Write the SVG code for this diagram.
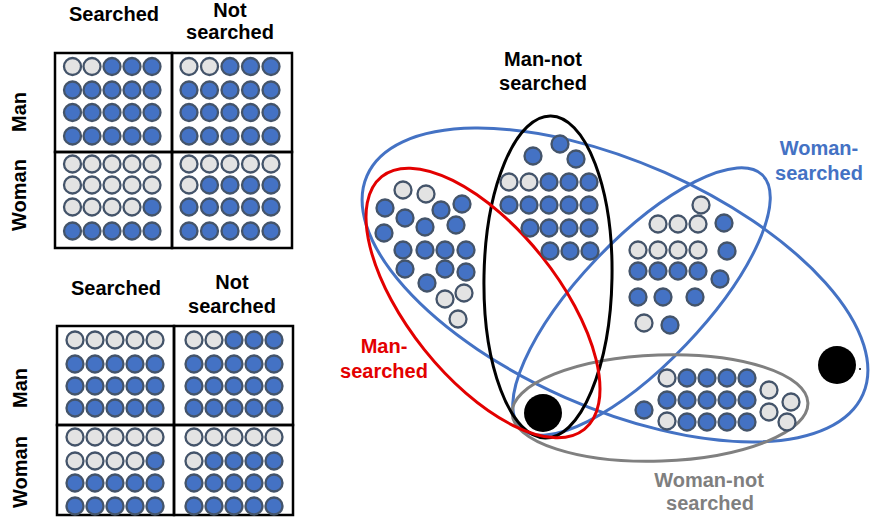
<svg xmlns="http://www.w3.org/2000/svg" width="870" height="529" viewBox="0 0 870 529">
<style>
text{font-family:"Liberation Sans",Arial,sans-serif;font-weight:bold;font-size:20px;text-anchor:middle}
.b{fill:#4472C4;stroke:#44546A;stroke-width:2.3}
.l{fill:#E3E3E3;stroke:#44546A;stroke-width:2.3}
.cell{fill:none;stroke:#000;stroke-width:2.5}
.ring{fill:none;stroke-width:3}
</style>
<rect width="870" height="529" fill="#fff"/>

<!-- ===== Top grid ===== -->
<g id="top-grid">
  <text x="114" y="21">Searched</text>
  <text x="230" y="17">Not</text>
  <text x="230" y="39">searched</text>
  <text transform="translate(26,112) rotate(-90)">Man</text>
  <text transform="translate(26,195) rotate(-90)">Woman</text>
  <g id="t-man-s">
    <rect class="cell" x="55" y="53" width="117" height="99"/>
    <circle class="l" cx="72.5" cy="66.5" r="8.5"/><circle class="l" cx="92" cy="66.5" r="8.5"/><circle class="b" cx="112" cy="66.5" r="8.5"/><circle class="b" cx="132" cy="66.5" r="8.5"/><circle class="b" cx="152" cy="66.5" r="8.5"/>
    <circle class="b" cx="72.5" cy="90" r="8.5"/><circle class="b" cx="92" cy="90" r="8.5"/><circle class="b" cx="112" cy="90" r="8.5"/><circle class="b" cx="132" cy="90" r="8.5"/><circle class="b" cx="152" cy="90" r="8.5"/>
    <circle class="b" cx="72.5" cy="112.5" r="8.5"/><circle class="b" cx="92" cy="112.5" r="8.5"/><circle class="b" cx="112" cy="112.5" r="8.5"/><circle class="b" cx="132" cy="112.5" r="8.5"/><circle class="b" cx="152" cy="112.5" r="8.5"/>
    <circle class="b" cx="72.5" cy="136" r="8.5"/><circle class="b" cx="92" cy="136" r="8.5"/><circle class="b" cx="112" cy="136" r="8.5"/><circle class="b" cx="132" cy="136" r="8.5"/><circle class="b" cx="152" cy="136" r="8.5"/>
  </g>
  <g id="t-man-ns">
    <rect class="cell" x="172" y="53" width="120" height="99"/>
    <circle class="l" cx="189" cy="66.5" r="8.5"/><circle class="l" cx="209.5" cy="66.5" r="8.5"/><circle class="b" cx="230" cy="66.5" r="8.5"/><circle class="b" cx="250.5" cy="66.5" r="8.5"/><circle class="b" cx="271" cy="66.5" r="8.5"/>
    <circle class="b" cx="189" cy="90" r="8.5"/><circle class="b" cx="209.5" cy="90" r="8.5"/><circle class="b" cx="230" cy="90" r="8.5"/><circle class="b" cx="250.5" cy="90" r="8.5"/><circle class="b" cx="271" cy="90" r="8.5"/>
    <circle class="b" cx="189" cy="112.5" r="8.5"/><circle class="b" cx="209.5" cy="112.5" r="8.5"/><circle class="b" cx="230" cy="112.5" r="8.5"/><circle class="b" cx="250.5" cy="112.5" r="8.5"/><circle class="b" cx="271" cy="112.5" r="8.5"/>
    <circle class="b" cx="189" cy="136" r="8.5"/><circle class="b" cx="209.5" cy="136" r="8.5"/><circle class="b" cx="230" cy="136" r="8.5"/><circle class="b" cx="250.5" cy="136" r="8.5"/><circle class="b" cx="271" cy="136" r="8.5"/>
  </g>
  <g id="t-woman-s">
    <rect class="cell" x="55" y="152" width="117" height="96"/>
    <circle class="l" cx="72.5" cy="164" r="8.5"/><circle class="l" cx="92" cy="164" r="8.5"/><circle class="l" cx="112" cy="164" r="8.5"/><circle class="l" cx="132" cy="164" r="8.5"/><circle class="l" cx="152" cy="164" r="8.5"/>
    <circle class="l" cx="72.5" cy="185" r="8.5"/><circle class="l" cx="92" cy="185" r="8.5"/><circle class="l" cx="112" cy="185" r="8.5"/><circle class="l" cx="132" cy="185" r="8.5"/><circle class="l" cx="152" cy="185" r="8.5"/>
    <circle class="l" cx="72.5" cy="207" r="8.5"/><circle class="l" cx="92" cy="207" r="8.5"/><circle class="l" cx="112" cy="207" r="8.5"/><circle class="l" cx="132" cy="207" r="8.5"/><circle class="b" cx="152" cy="207" r="8.5"/>
    <circle class="b" cx="72.5" cy="231" r="8.5"/><circle class="b" cx="92" cy="231" r="8.5"/><circle class="b" cx="112" cy="231" r="8.5"/><circle class="b" cx="132" cy="231" r="8.5"/><circle class="b" cx="152" cy="231" r="8.5"/>
  </g>
  <g id="t-woman-ns">
    <rect class="cell" x="172" y="152" width="120" height="96"/>
    <circle class="l" cx="189" cy="164" r="8.5"/><circle class="l" cx="209.5" cy="164" r="8.5"/><circle class="l" cx="230" cy="164" r="8.5"/><circle class="l" cx="250.5" cy="164" r="8.5"/><circle class="l" cx="271" cy="164" r="8.5"/>
    <circle class="l" cx="189" cy="185" r="8.5"/><circle class="b" cx="209.5" cy="185" r="8.5"/><circle class="b" cx="230" cy="185" r="8.5"/><circle class="b" cx="250.5" cy="185" r="8.5"/><circle class="b" cx="271" cy="185" r="8.5"/>
    <circle class="b" cx="189" cy="207" r="8.5"/><circle class="b" cx="209.5" cy="207" r="8.5"/><circle class="b" cx="230" cy="207" r="8.5"/><circle class="b" cx="250.5" cy="207" r="8.5"/><circle class="b" cx="271" cy="207" r="8.5"/>
    <circle class="b" cx="189" cy="231" r="8.5"/><circle class="b" cx="209.5" cy="231" r="8.5"/><circle class="b" cx="230" cy="231" r="8.5"/><circle class="b" cx="250.5" cy="231" r="8.5"/><circle class="b" cx="271" cy="231" r="8.5"/>
  </g>
</g>

<!-- ===== Bottom grid ===== -->
<g id="bottom-grid">
  <text x="116" y="295">Searched</text>
  <text x="232" y="289">Not</text>
  <text x="232" y="313">searched</text>
  <text transform="translate(27,388) rotate(-90)">Man</text>
  <text transform="translate(27,472) rotate(-90)">Woman</text>
  <g id="b-man-s">
    <rect class="cell" x="57" y="326" width="117" height="99"/>
    <circle class="l" cx="75" cy="340" r="8.5"/><circle class="l" cx="95" cy="340" r="8.5"/><circle class="l" cx="115" cy="340" r="8.5"/><circle class="l" cx="135" cy="340" r="8.5"/><circle class="l" cx="155" cy="340" r="8.5"/>
    <circle class="b" cx="75" cy="364" r="8.5"/><circle class="b" cx="95" cy="364" r="8.5"/><circle class="b" cx="115" cy="364" r="8.5"/><circle class="b" cx="135" cy="364" r="8.5"/><circle class="b" cx="155" cy="364" r="8.5"/>
    <circle class="b" cx="75" cy="386" r="8.5"/><circle class="b" cx="95" cy="386" r="8.5"/><circle class="b" cx="115" cy="386" r="8.5"/><circle class="b" cx="135" cy="386" r="8.5"/><circle class="b" cx="155" cy="386" r="8.5"/>
    <circle class="b" cx="75" cy="408" r="8.5"/><circle class="b" cx="95" cy="408" r="8.5"/><circle class="b" cx="115" cy="408" r="8.5"/><circle class="b" cx="135" cy="408" r="8.5"/><circle class="b" cx="155" cy="408" r="8.5"/>
  </g>
  <g id="b-man-ns">
    <rect class="cell" x="174" y="326" width="119" height="99"/>
    <circle class="l" cx="194" cy="340" r="8.5"/><circle class="l" cx="214" cy="340" r="8.5"/><circle class="b" cx="234" cy="340" r="8.5"/><circle class="b" cx="254" cy="340" r="8.5"/><circle class="b" cx="274" cy="340" r="8.5"/>
    <circle class="b" cx="194" cy="364" r="8.5"/><circle class="b" cx="214" cy="364" r="8.5"/><circle class="b" cx="234" cy="364" r="8.5"/><circle class="b" cx="254" cy="364" r="8.5"/><circle class="b" cx="274" cy="364" r="8.5"/>
    <circle class="b" cx="194" cy="386" r="8.5"/><circle class="b" cx="214" cy="386" r="8.5"/><circle class="b" cx="234" cy="386" r="8.5"/><circle class="b" cx="254" cy="386" r="8.5"/><circle class="b" cx="274" cy="386" r="8.5"/>
    <circle class="b" cx="194" cy="408" r="8.5"/><circle class="b" cx="214" cy="408" r="8.5"/><circle class="b" cx="234" cy="408" r="8.5"/><circle class="b" cx="254" cy="408" r="8.5"/><circle class="b" cx="274" cy="408" r="8.5"/>
  </g>
  <g id="b-woman-s">
    <rect class="cell" x="57" y="425" width="117" height="90"/>
    <circle class="l" cx="75" cy="437" r="8.5"/><circle class="l" cx="95" cy="437" r="8.5"/><circle class="l" cx="115" cy="437" r="8.5"/><circle class="l" cx="135" cy="437" r="8.5"/><circle class="l" cx="155" cy="437" r="8.5"/>
    <circle class="l" cx="75" cy="461" r="8.5"/><circle class="l" cx="95" cy="461" r="8.5"/><circle class="l" cx="115" cy="461" r="8.5"/><circle class="l" cx="135" cy="461" r="8.5"/><circle class="b" cx="155" cy="461" r="8.5"/>
    <circle class="b" cx="75" cy="483" r="8.5"/><circle class="b" cx="95" cy="483" r="8.5"/><circle class="b" cx="115" cy="483" r="8.5"/><circle class="b" cx="135" cy="483" r="8.5"/><circle class="b" cx="155" cy="483" r="8.5"/>
    <circle class="b" cx="75" cy="506" r="8.5"/><circle class="b" cx="95" cy="506" r="8.5"/><circle class="b" cx="115" cy="506" r="8.5"/><circle class="b" cx="135" cy="506" r="8.5"/><circle class="b" cx="155" cy="506" r="8.5"/>
  </g>
  <g id="b-woman-ns">
    <rect class="cell" x="174" y="425" width="119" height="90"/>
    <circle class="l" cx="194" cy="437" r="8.5"/><circle class="l" cx="214" cy="437" r="8.5"/><circle class="l" cx="234" cy="437" r="8.5"/><circle class="l" cx="254" cy="437" r="8.5"/><circle class="l" cx="274" cy="437" r="8.5"/>
    <circle class="l" cx="194" cy="461" r="8.5"/><circle class="b" cx="214" cy="461" r="8.5"/><circle class="b" cx="234" cy="461" r="8.5"/><circle class="b" cx="254" cy="461" r="8.5"/><circle class="b" cx="274" cy="461" r="8.5"/>
    <circle class="b" cx="194" cy="483" r="8.5"/><circle class="b" cx="214" cy="483" r="8.5"/><circle class="b" cx="234" cy="483" r="8.5"/><circle class="b" cx="254" cy="483" r="8.5"/><circle class="b" cx="274" cy="483" r="8.5"/>
    <circle class="b" cx="194" cy="506" r="8.5"/><circle class="b" cx="214" cy="506" r="8.5"/><circle class="b" cx="234" cy="506" r="8.5"/><circle class="b" cx="254" cy="506" r="8.5"/><circle class="b" cx="274" cy="506" r="8.5"/>
  </g>
</g>

<!-- ===== Right diagram: ellipses ===== -->
<g id="connectors"></g>
<g id="woman-searched">
  <ellipse class="ring" stroke="#4472C4" cx="615" cy="285" rx="271" ry="123" transform="rotate(23.8 615 285)"/>
  <ellipse class="ring" stroke="#4472C4" cx="641.5" cy="301.5" rx="175" ry="62" transform="rotate(-46.4 641.5 301.5)"/>
  <text x="819" y="155" fill="#4472C4">Woman-</text>
  <text x="819" y="180" fill="#4472C4">searched</text>
</g>
<g id="woman-not-searched">
  <ellipse class="ring" stroke="#808080" cx="660" cy="408" rx="148" ry="53" transform="rotate(-2 660 408)"/>
  <text x="709" y="487" fill="#7F7F7F">Woman-not</text>
  <text x="710" y="510" fill="#7F7F7F">searched</text>
</g>
<g id="man-not-searched">
  <ellipse class="ring" stroke="#000" cx="548" cy="277" rx="64" ry="161" transform="rotate(1 548 277)"/>
  <text x="543" y="66" fill="#000">Man-not</text>
  <text x="543" y="90" fill="#000">searched</text>
</g>
<g id="man-searched">
  <ellipse class="ring" stroke="#E30000" cx="483" cy="303" rx="162" ry="75" transform="rotate(51.3 483 303)"/>
  <text x="384" y="353" fill="#E30000">Man-</text>
  <text x="384" y="378" fill="#E30000">searched</text>
</g>

<!-- dots: man-searched cluster -->
<g id="dots-man-searched">
  <circle class="l" cx="403" cy="190" r="8.5"/><circle class="l" cx="426" cy="194" r="8.5"/>
  <circle class="b" cx="385" cy="208" r="8.5"/><circle class="b" cx="441" cy="210" r="8.5"/><circle class="b" cx="462" cy="204" r="8.5"/>
  <circle class="b" cx="405" cy="218" r="8.5"/><circle class="b" cx="425" cy="227" r="8.5"/><circle class="b" cx="456" cy="225" r="8.5"/>
  <circle class="b" cx="384" cy="233" r="8.5"/>
  <circle class="b" cx="403" cy="250" r="8.5"/><circle class="b" cx="425" cy="250" r="8.5"/><circle class="b" cx="445" cy="250" r="8.5"/><circle class="b" cx="466" cy="250" r="8.5"/>
  <circle class="b" cx="405" cy="269" r="8.5"/><circle class="b" cx="445" cy="269" r="8.5"/><circle class="b" cx="466" cy="272" r="8.5"/>
  <circle class="b" cx="427" cy="283" r="8.5"/>
  <circle class="l" cx="464" cy="293" r="8.5"/><circle class="l" cx="445" cy="299" r="8.5"/><circle class="l" cx="458" cy="319" r="8.5"/>
</g>
<g id="dots-man-not-searched">
  <circle class="b" cx="560" cy="144" r="8.5"/><circle class="b" cx="533" cy="156" r="8.5"/><circle class="b" cx="576" cy="159" r="8.5"/>
  <circle class="l" cx="509" cy="182" r="8.5"/><circle class="l" cx="529" cy="182" r="8.5"/><circle class="b" cx="549" cy="182" r="8.5"/><circle class="b" cx="569" cy="182" r="8.5"/><circle class="b" cx="589" cy="182" r="8.5"/>
  <circle class="b" cx="509" cy="205" r="8.5"/><circle class="b" cx="529" cy="205" r="8.5"/><circle class="b" cx="549" cy="205" r="8.5"/><circle class="b" cx="569" cy="205" r="8.5"/><circle class="b" cx="589" cy="205" r="8.5"/>
  <circle class="b" cx="530" cy="228" r="8.5"/><circle class="b" cx="549" cy="228" r="8.5"/><circle class="b" cx="569" cy="228" r="8.5"/><circle class="b" cx="589" cy="228" r="8.5"/>
  <circle class="b" cx="550" cy="251" r="8.5"/><circle class="b" cx="570" cy="251" r="8.5"/><circle class="b" cx="590" cy="251" r="8.5"/>
</g>
<g id="dots-woman-searched">
  <circle class="l" cx="701" cy="205" r="8.5"/>
  <circle class="l" cx="658" cy="224" r="8.5"/><circle class="l" cx="678" cy="224" r="8.5"/><circle class="l" cx="698" cy="224" r="8.5"/><circle class="b" cx="724" cy="223" r="8.5"/>
  <circle class="l" cx="638" cy="250" r="8.5"/><circle class="l" cx="658" cy="250" r="8.5"/><circle class="l" cx="678" cy="250" r="8.5"/><circle class="l" cx="698" cy="250" r="8.5"/><circle class="b" cx="727" cy="251" r="8.5"/>
  <circle class="b" cx="638" cy="271" r="8.5"/><circle class="b" cx="658" cy="271" r="8.5"/><circle class="b" cx="678" cy="271" r="8.5"/><circle class="b" cx="698" cy="271" r="8.5"/><circle class="b" cx="720" cy="279" r="8.5"/>
  <circle class="b" cx="638" cy="297" r="8.5"/><circle class="b" cx="663" cy="297" r="8.5"/><circle class="b" cx="695" cy="297" r="8.5"/>
  <circle class="l" cx="644" cy="323" r="8.5"/><circle class="b" cx="670" cy="325" r="8.5"/>
</g>
<g id="dots-woman-not-searched">
  <circle class="l" cx="667" cy="378" r="8.5"/><circle class="b" cx="687" cy="378" r="8.5"/><circle class="b" cx="707" cy="378" r="8.5"/><circle class="b" cx="727" cy="378" r="8.5"/><circle class="b" cx="747" cy="378" r="8.5"/>
  <circle class="b" cx="667" cy="400" r="8.5"/><circle class="b" cx="687" cy="400" r="8.5"/><circle class="b" cx="707" cy="400" r="8.5"/><circle class="b" cx="727" cy="400" r="8.5"/><circle class="b" cx="747" cy="400" r="8.5"/>
  <circle class="b" cx="644" cy="410" r="8.5"/>
  <circle class="l" cx="667" cy="421" r="8.5"/><circle class="b" cx="687" cy="422" r="8.5"/><circle class="b" cx="707" cy="422" r="8.5"/><circle class="b" cx="727" cy="422" r="8.5"/><circle class="b" cx="747" cy="422" r="8.5"/>
  <circle class="l" cx="769" cy="390" r="8.5"/><circle class="l" cx="791" cy="402" r="8.5"/><circle class="l" cx="769" cy="412" r="8.5"/><circle class="l" cx="787" cy="422" r="8.5"/>
</g>
<g id="black-dots">
  <circle cx="543" cy="413" r="19" fill="#000"/>
  <circle cx="837" cy="365" r="19" fill="#000"/>
  <circle cx="860" cy="369" r="1" fill="#000"/>
</g>
</svg>
